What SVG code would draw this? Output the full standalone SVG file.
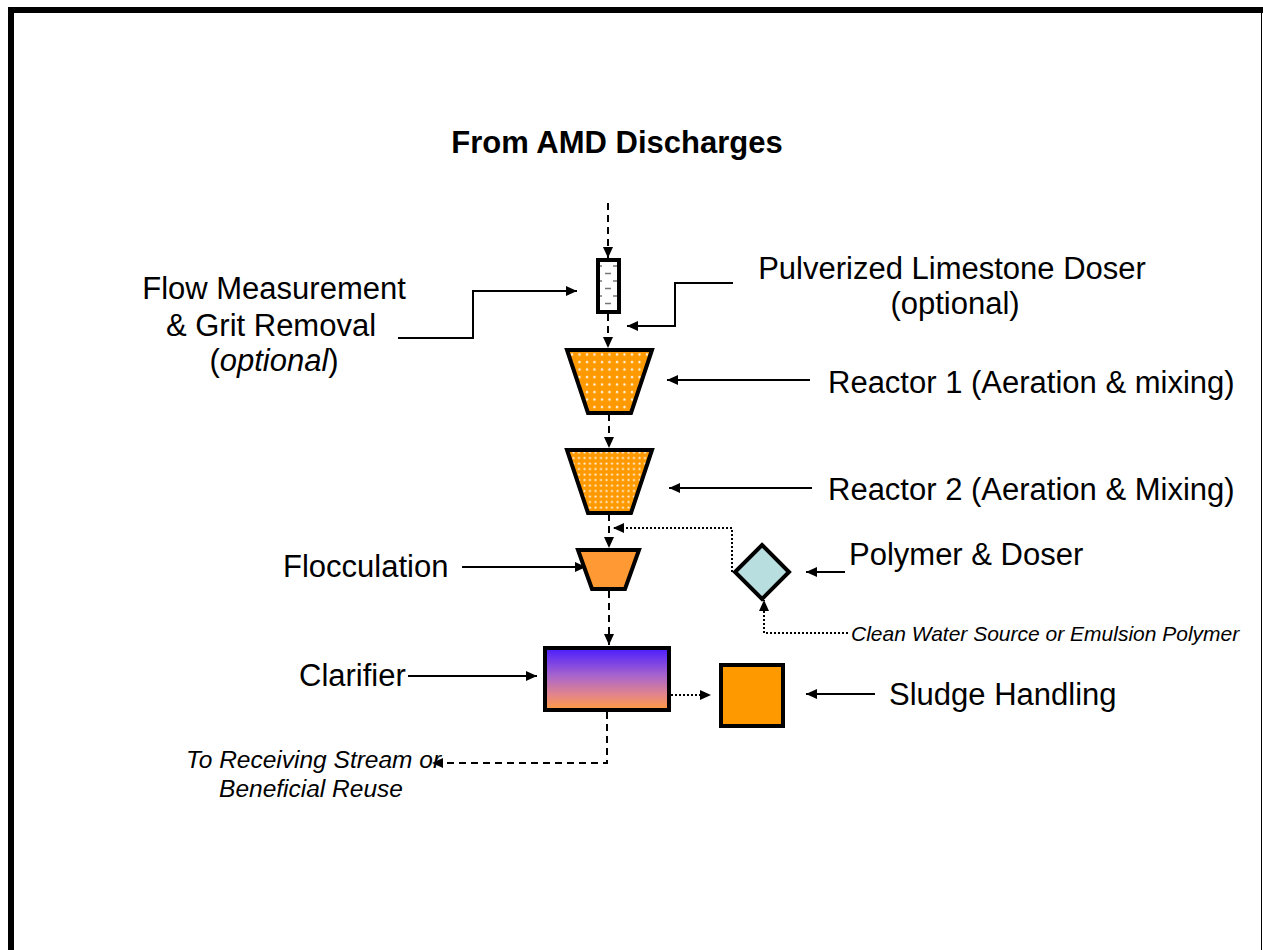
<svg xmlns="http://www.w3.org/2000/svg" width="1263" height="950" viewBox="0 0 1263 950">
  <style>
    .lbl { font-family: "Liberation Sans", Arial, sans-serif; font-size: 31px; fill: #000; }
    .ttl { font-family: "Liberation Sans", Arial, sans-serif; font-size: 31px; font-weight: bold; fill: #000; }
    .note { font-family: "Liberation Sans", Arial, sans-serif; font-style: italic; fill: #000; }
    .unit { stroke: #000; stroke-width: 4; stroke-linejoin: miter; }
    .solid { fill: none; stroke: #000; stroke-width: 2; marker-end: url(#arrow); }
    .dash { fill: none; stroke: #000; stroke-width: 2; stroke-dasharray: 7 5; marker-end: url(#arrow); }
    .dot { fill: none; stroke: #000; stroke-width: 2; stroke-dasharray: 2 2; marker-end: url(#arrow); }
  </style>
  <defs>
    <marker id="arrow" markerUnits="userSpaceOnUse" markerWidth="11" markerHeight="10" refX="11" refY="5" orient="auto">
      <path d="M0,0 L11,5 L0,10 z" fill="#000"/>
    </marker>
    <pattern id="dotsCoarse" width="7.5" height="7.5" patternUnits="userSpaceOnUse">
      <rect width="7.5" height="7.5" fill="#FF9900"/>
      <circle cx="2" cy="2" r="1.2" fill="#FFF4E0"/>
    </pattern>
    <pattern id="dotsFine" width="5.5" height="5.5" patternUnits="userSpaceOnUse">
      <rect width="5.5" height="5.5" fill="#FF9900"/>
      <circle cx="1.5" cy="1.5" r="1.1" fill="#FFF0D8"/>
    </pattern>
    <pattern id="grit" width="22" height="15" patternUnits="userSpaceOnUse" x="597" y="262">
      <rect width="22" height="15" fill="#fff"/>
      <path d="M0,4 H5 M16,4 H22 M8,11.5 H14" stroke="#777" stroke-width="1.6"/>
    </pattern>
    <linearGradient id="settle" x1="0" y1="0" x2="0" y2="1">
      <stop offset="0" stop-color="#4A1CFF"/>
      <stop offset="0.45" stop-color="#A865CC"/>
      <stop offset="0.75" stop-color="#E2858C"/>
      <stop offset="1" stop-color="#FF9A40"/>
    </linearGradient>
  </defs>

  <rect width="1263" height="950" fill="#fff"/>

  <!-- slide frame -->
  <g id="frame">
    <rect x="8" y="7" width="1255" height="6" fill="#000"/>
    <rect x="8" y="7" width="6" height="943" fill="#000"/>
    <line x1="1261.5" y1="7" x2="1261.5" y2="950" stroke="#000" stroke-width="1"/>
  </g>

  <text class="ttl" x="617" y="153" text-anchor="middle">From AMD Discharges</text>

  <!-- process units -->
  <g id="grit-chamber">
    <rect class="unit" x="598" y="260" width="21" height="52" fill="url(#grit)"/>
  </g>
  <g id="reactor-1">
    <polygon class="unit" points="567,350 652,350 631,413 588,413" fill="url(#dotsCoarse)"/>
  </g>
  <g id="reactor-2">
    <polygon class="unit" points="567,450 652,450 631,513 588,513" fill="url(#dotsFine)"/>
  </g>
  <g id="flocculation">
    <polygon class="unit" points="578,550 639,550 625,589 592,589" fill="#FF9933"/>
  </g>
  <g id="polymer-doser">
    <polygon class="unit" points="762,545 789,572 762,599 735,572" fill="#B8DEE0"/>
  </g>
  <g id="clarifier">
    <rect class="unit" x="545" y="648" width="124" height="62" fill="url(#settle)"/>
  </g>
  <g id="sludge-handling">
    <rect class="unit" x="721" y="665" width="62" height="61" fill="#FF9900"/>
  </g>

  <!-- flow and label connectors -->
  <g id="connectors">
    <path class="dash" d="M608,203 V258"/>
    <path class="dash" d="M608,314 V348"/>
    <path class="dash" d="M609,414 V448"/>
    <path class="dash" d="M609,514 V548"/>
    <path class="dash" d="M609,591 V645"/>
    <path class="dash" d="M607,712 V763 H432"/>
    <path class="dot" d="M732,572 V528 H613"/>
    <path class="dot" d="M848,633 H764 V600"/>
    <path class="dot" d="M671,695 H711"/>
    <path class="solid" d="M398,338 H473 V291 H577"/>
    <path class="solid" d="M733,283 H675 V326 H627"/>
    <path class="solid" d="M810,380 H667"/>
    <path class="solid" d="M812,488 H669"/>
    <path class="solid" d="M462,567 H586"/>
    <path class="solid" d="M845,572 H806"/>
    <path class="solid" d="M408,676 H537"/>
    <path class="solid" d="M875,694 H806"/>
  </g>

  <!-- labels -->
  <g id="labels">
    <text class="lbl" x="274" y="299" text-anchor="middle">Flow Measurement</text>
    <text class="lbl" x="271" y="336" text-anchor="middle">&amp; Grit Removal</text>
    <text class="lbl" x="274" y="371" text-anchor="middle">(<tspan font-style="italic">optional</tspan>)</text>
    <text class="lbl" x="952" y="279" text-anchor="middle">Pulverized Limestone Doser</text>
    <text class="lbl" x="955" y="314" text-anchor="middle">(optional)</text>
    <text class="lbl" x="828" y="393">Reactor 1 (Aeration &amp; mixing)</text>
    <text class="lbl" x="828" y="500">Reactor 2 (Aeration &amp; Mixing)</text>
    <text class="lbl" x="283" y="577">Flocculation</text>
    <text class="lbl" x="849" y="565">Polymer &amp; Doser</text>
    <text class="lbl" x="299" y="686">Clarifier</text>
    <text class="lbl" x="889" y="705">Sludge Handling</text>
    <text class="note" x="851" y="641" font-size="21">Clean Water Source or Emulsion Polymer</text>
    <text class="note" x="186" y="768" font-size="24.5">To Receiving Stream or</text>
    <text class="note" x="311" y="797" font-size="24.5" text-anchor="middle">Beneficial Reuse</text>
  </g>
</svg>
